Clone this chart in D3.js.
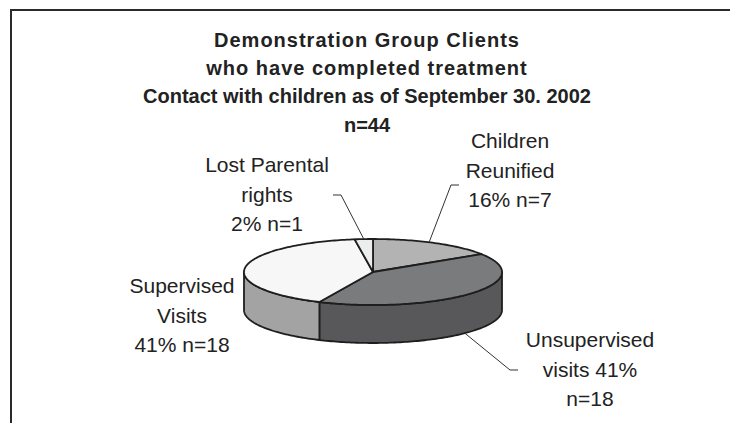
<!DOCTYPE html>
<html>
<head>
<meta charset="utf-8">
<script src="https://cdn.jsdelivr.net/npm/d3@7"></script>
<style>
  body { margin: 0; background: #fff; }
  svg { display: block; font-family: "Liberation Sans", Arial, sans-serif; }
</style>
</head>
<body>
<div id="chart"></div>
<script>
'use strict'

////////////////////////////////////
/////////////// data ///////////////
////////////////////////////////////

const titleLines = [
    'Demonstration Group Clients',
    'who have completed treatment',
    'Contact with children as of September 30. 2002',
    'n=44'
]
const categories = ['Children Reunified', 'Unsupervised visits', 'Supervised Visits', 'Lost Parental rights']
const counts = [7, 18, 18, 1]
const percents = [16, 41, 41, 2]
const labelLines = [
    ['Children', 'Reunified', '16% n=7'],
    ['Unsupervised', 'visits 41%', 'n=18'],
    ['Supervised', 'Visits', '41% n=18'],
    ['Lost Parental', 'rights', '2% n=1']
]

////////////////////////////////////
///////////// svg setup ////////////
////////////////////////////////////

const svgWidth = 730
const svgHeight = 423

const svg = d3.select('#chart')
    .append('svg')
    .attr('width', svgWidth)
    .attr('height', svgHeight)

// frame (runs off the right and bottom edges like the source)
svg.append('rect')
    .attr('x', 11)
    .attr('y', 10)
    .attr('width', svgWidth)
    .attr('height', svgHeight)
    .attr('fill', 'none')
    .attr('stroke', '#2a2a2a')
    .attr('stroke-width', 2)

// title (first two lines are spaced out a little in the source)
const titleSpacing = [1, 1, 0, 0]

svg.append('g')
    .selectAll('text')
    .data(titleLines)
    .join('text')
    .attr('x', 367)
    .attr('y', (d, i) => 47 + i * 28.2)
    .attr('text-anchor', 'middle')
    .attr('font-size', '20px')
    .attr('font-weight', 'bold')
    .attr('letter-spacing', (d, i) => titleSpacing[i])
    .attr('fill', '#222')
    .text(d => d)

////////////////////////////////////
//////////////// pie ///////////////
////////////////////////////////////

const cx = 373, cy = 272, rx = 129, ry = 33, depth = 38
const topColors = ['#b3b3b3', '#7a7b7d', '#f7f7f7', '#eceeee']
const sideColors = ['#8c8c8c', '#58585a', '#a3a3a3', '#bcbcbc']

const pie = d3.pie().sort(null).startAngle(0).endAngle(2 * Math.PI)
const slices = pie(counts).map((d, i) => ({...d, name: categories[i], pct: percents[i], i: i}))

// angle measured clockwise from 12 o'clock, projected onto the ellipse
const pt = (a, dy = 0) => [cx + rx * Math.sin(a), cy - ry * Math.cos(a) + dy]
const arcPts = (a0, a1, dy = 0) => {
    const n = Math.max(2, Math.ceil(Math.abs(a1 - a0) / 0.02))
    return d3.range(n + 1).map(k => pt(a0 + (a1 - a0) * k / n, dy))
}
const line = d3.line()

// side walls, only the front half (pi/2 .. 3pi/2) is seen
const walls = slices
    .map(s => ({s: s, a0: Math.max(s.startAngle, Math.PI / 2), a1: Math.min(s.endAngle, 3 * Math.PI / 2)}))
    .filter(w => w.a1 > w.a0)

svg.append('g')
    .selectAll('path')
    .data(walls)
    .join('path')
    .attr('d', w => line(arcPts(w.a0, w.a1).concat(arcPts(w.a1, w.a0, depth))) + 'Z')
    .attr('fill', w => sideColors[w.s.i])
    .attr('stroke', '#1e1e1e')
    .attr('stroke-width', 1.8)
    .attr('stroke-linejoin', 'round')

svg.append('g')
    .selectAll('path')
    .data(slices)
    .join('path')
    .attr('d', s => line([[cx, cy]].concat(arcPts(s.startAngle, s.endAngle))) + 'Z')
    .attr('fill', s => topColors[s.i])
    .attr('stroke', '#1e1e1e')
    .attr('stroke-width', 1.8)
    .attr('stroke-linejoin', 'round')

////////////////////////////////////
/////////////// labels /////////////
////////////////////////////////////

const labelPos = [
    {x: 510, y: 148},
    {x: 590, y: 347},
    {x: 182, y: 293},
    {x: 267, y: 172}
]

// leader lines: [point on pie, elbow, end]
const leaders = [
    {i: 0, pts: [pt(slices[0].startAngle + 0.45), [451, 185], [459, 185]]},
    {i: 1, pts: [pt(slices[1].startAngle + 1.35, depth), [510, 370], [518, 370]]},
    {i: 3, pts: [pt((slices[3].startAngle + slices[3].endAngle) / 2), [341, 195], [333, 195]]}
]

svg.append('g')
    .selectAll('path')
    .data(leaders)
    .join('path')
    .attr('d', d => line(d.pts))
    .attr('fill', 'none')
    .attr('stroke', '#333')
    .attr('stroke-width', 1)

const labels = svg.append('g')
    .selectAll('text')
    .data(slices)
    .join('text')
    .attr('text-anchor', 'middle')
    .attr('font-size', '21px')
    .attr('fill', '#222')

labels.selectAll('tspan')
    .data(s => labelLines[s.i].map((t, k) => ({t: t, k: k, p: labelPos[s.i]})))
    .join('tspan')
    .attr('x', d => d.p.x)
    .attr('y', d => d.p.y + d.k * 29.5)
    .text(d => d.t)
</script>
</body>
</html>
